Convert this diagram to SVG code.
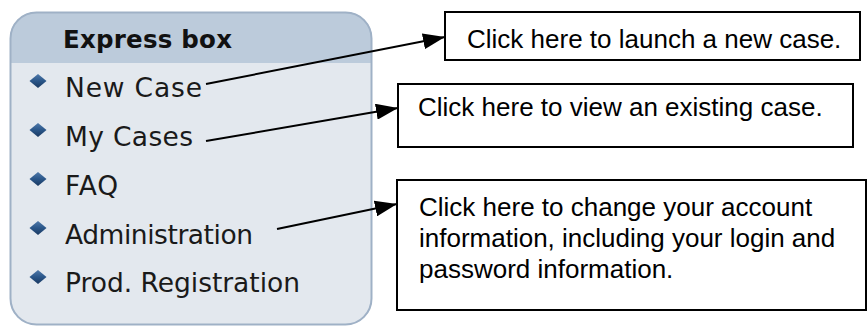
<svg xmlns="http://www.w3.org/2000/svg" width="867" height="330" viewBox="0 0 867 330">
<defs>
<style>
.item{font-family:"DejaVu Sans","Liberation Sans",sans-serif;font-size:26.5px;fill:#1a1a1a}
.hdr{font-family:"DejaVu Sans","Liberation Sans",sans-serif;font-size:24.5px;font-weight:bold;fill:#111}
.call{font-family:"Liberation Sans",Arial,sans-serif;font-size:26px;fill:#000}
.box{fill:#fff;stroke:#000;stroke-width:2}
.conn{stroke:#000;stroke-width:2;fill:none;marker-end:url(#ah)}
</style>
<marker id="ah" viewBox="0 0 22 16" refX="22" refY="8" markerWidth="22" markerHeight="16" markerUnits="userSpaceOnUse" orient="auto">
<path d="M0,0 L22,8 L0,16 Z" fill="#000"/>
</marker>
<linearGradient id="dg" x1="0" y1="0" x2="0" y2="1">
<stop offset="0" stop-color="#4f79aa"/>
<stop offset="0.5" stop-color="#2a5689"/>
<stop offset="1" stop-color="#1a3961"/>
</linearGradient>
<path id="dia" d="M0,-7 L8.5,0 L0,7 L-8.5,0 Z" fill="url(#dg)"/>
<clipPath id="pc"><rect x="10" y="12" width="362" height="313" rx="26"/></clipPath>
</defs>
<rect width="867" height="330" fill="#fff"/>
<g id="express-box">
<g clip-path="url(#pc)">
<rect x="10" y="12" width="362" height="313" fill="#e3e8ee"/>
<rect x="10" y="12" width="362" height="51" fill="#bccbdb"/>
</g>
<rect x="10.5" y="12.5" width="361" height="312" rx="26" fill="none" stroke="#9fb1c6" stroke-width="2"/>
<text class="hdr" x="63" y="48" textLength="169">Express box</text>
</g>
<g id="item-new-case"><use href="#dia" x="38" y="81"/><text class="item" x="65" y="97" textLength="137">New Case</text></g>
<g id="item-my-cases"><use href="#dia" x="38" y="130"/><text class="item" x="65" y="146" textLength="128">My Cases</text></g>
<g id="item-faq"><use href="#dia" x="38" y="179"/><text class="item" x="65" y="195" textLength="53">FAQ</text></g>
<g id="item-admin"><use href="#dia" x="38" y="228"/><text class="item" x="65" y="244" textLength="188">Administration</text></g>
<g id="item-prod-reg"><use href="#dia" x="38" y="277"/><text class="item" x="65" y="292" textLength="235">Prod. Registration</text></g>
<g id="callout-new">
<rect class="box" x="445" y="12" width="415" height="48"/>
<text class="call" x="467" y="48">Click here to launch a new case.</text>
</g>
<g id="callout-view">
<rect class="box" x="398" y="84" width="455" height="63"/>
<text class="call" x="418" y="116">Click here to view an existing case.</text>
</g>
<g id="callout-admin">
<rect class="box" x="397" y="180" width="469" height="130"/>
<text class="call" x="419" y="216">Click here to change your account</text>
<text class="call" x="419" y="247">information, including your login and</text>
<text class="call" x="419" y="278">password information.</text>
</g>
<g id="connectors">
<line class="conn" x1="206" y1="84" x2="445" y2="37"/>
<line class="conn" x1="206" y1="141" x2="398" y2="108"/>
<line class="conn" x1="277" y1="229" x2="397" y2="204"/>
</g>
</svg>
